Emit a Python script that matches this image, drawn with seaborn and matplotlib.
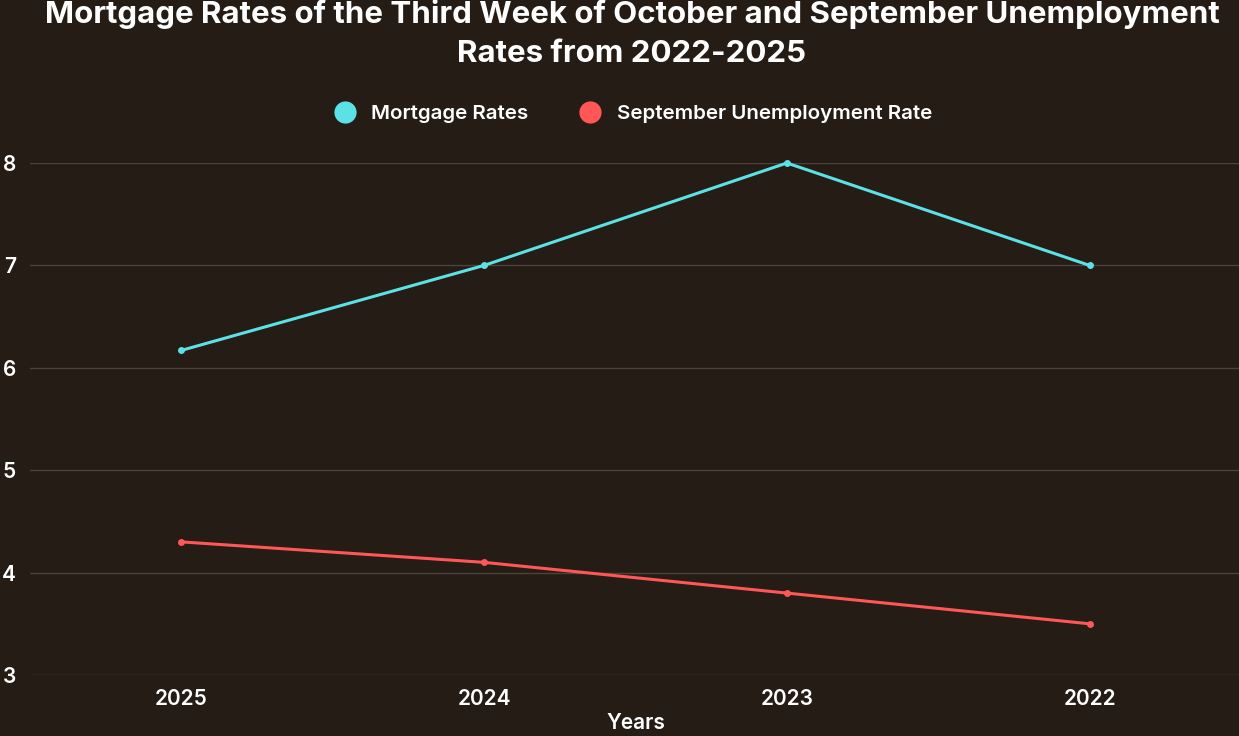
import pandas as pd
import seaborn as sns
from matplotlib import pyplot as plt
from matplotlib.lines import Line2D

# Data
years = ["2025", "2024", "2023", "2022"]
mortgage_rates = [6.17, 7.0, 8.0, 7.0]
unemployment_rates = [4.3, 4.1, 3.8, 3.5]
series_names = ["Mortgage Rates", "September Unemployment Rate"]
y_ticks = [3, 4, 5, 6, 7, 8]
title_lines = ["Mortgage Rates of the Third Week of October and September Unemployment",
               "Rates from 2022-2025"]

bg = "#241c15"
grid_col = "#4a423b"
colors = ["#5ce1e6", "#ff5757"]

df = pd.DataFrame({
    "Years": years * 2,
    "Rate": mortgage_rates + unemployment_rates,
    "Series": [series_names[0]] * len(years) + [series_names[1]] * len(years),
})

sns.set_theme(style="dark")
plt.rcParams["font.family"] = ["Inter", "DejaVu Sans"]

fig = plt.figure(figsize=(12.39, 7.36), dpi=100, facecolor=bg)
ax = fig.add_axes([30 / 1239, 1 - 675 / 736, 1211 / 1239, 512 / 736])
ax.set_facecolor(bg)

sns.lineplot(data=df, x="Years", y="Rate", hue="Series", palette=colors,
             marker="o", markersize=5, markeredgewidth=0, linewidth=2.2,
             sort=False, legend=False, ax=ax)
for ln in ax.lines:
    ln.set_clip_on(False)

ax.set_xlim(-0.5, 3.5)
ax.set_ylim(3, 8)
ax.set_yticks(y_ticks)
ax.yaxis.grid(True, color=grid_col, linewidth=1)
ax.xaxis.grid(False)
for s in ax.spines.values():
    s.set_visible(False)
ax.tick_params(axis="both", length=0, colors="white", labelsize=15)
ax.tick_params(axis="y", pad=10)
ax.tick_params(axis="x", pad=10)
for lab in ax.get_xticklabels() + ax.get_yticklabels():
    lab.set_fontweight("semibold")
ax.set_xlabel("Years", color="white", fontsize=15, fontweight="semibold", labelpad=3)
ax.set_ylabel("")

# title: first line sits right at the top edge as in the source image
fig.text(0.51, 1 - 14 / 736, title_lines[0], ha="center", va="center",
         color="white", fontsize=22.5, fontweight="bold")
fig.text(0.51, 1 - 54 / 736, title_lines[1], ha="center", va="center",
         color="white", fontsize=22.5, fontweight="bold")

handles = [Line2D([], [], marker="o", linestyle="", markersize=16,
                  markerfacecolor=c, markeredgewidth=0) for c in colors]
fig.legend(handles, series_names, loc="center", bbox_to_anchor=(0.507, 1 - 114 / 736),
           ncol=2, frameon=False, handletextpad=0.3, columnspacing=2.0,
           prop={"size": 14.8, "weight": "semibold"}, labelcolor="white")

plt.savefig("out.png", dpi=100, facecolor=bg)
